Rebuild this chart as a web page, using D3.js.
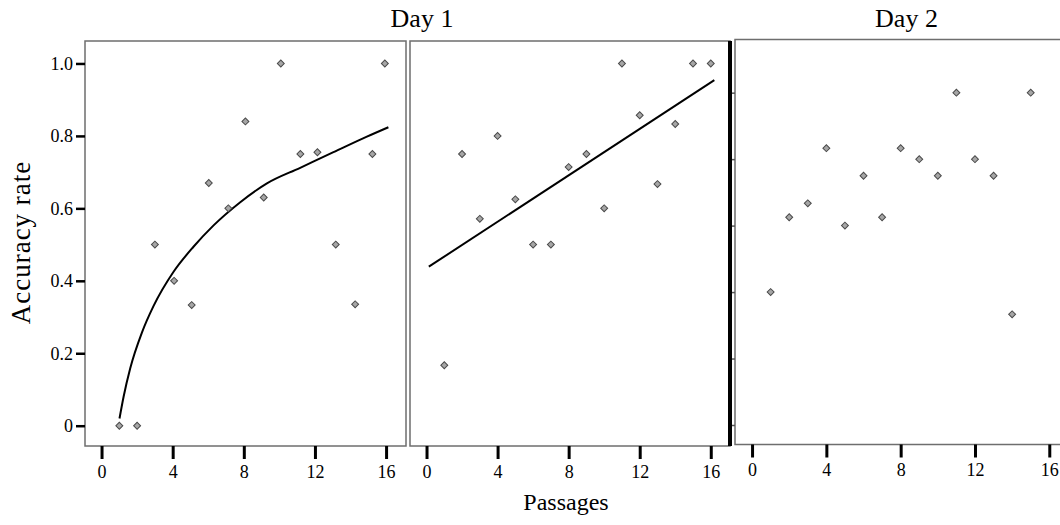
<!DOCTYPE html>
<html>
<head>
  <title>Accuracy rate by passages, Day 1 and Day 2</title>
  <script src="https://d3js.org/d3.v7.min.js"></script>
  <style>
    body { margin: 0; background: #fff; }
    text { font-family: "Liberation Serif", "Times New Roman", serif; fill: #000; }
  </style>
</head>
<body>

<div id="chart"></div>

<script>
// Day 1, left panel (points + fitted curve)
const passages1 = [1, 2, 3, 4.08, 5.07, 6.03, 7.13, 8.09, 9.12, 10.08, 11.18, 12.14, 13.17, 14.26, 15.23, 15.93];
const accuracy1 = [0, 0, 0.5, 0.4, 0.333, 0.67, 0.6, 0.84, 0.63, 1.0, 0.75, 0.755, 0.5, 0.335, 0.75, 1.0];
const curveX1 = [1.01, 1.24, 1.61, 2.27, 2.92, 4.05, 5.17, 6.3, 7.8, 9.3, 11.17, 13.04, 14.92, 16.13];
const curveY1 = [0.02, 0.08, 0.158, 0.257, 0.33, 0.425, 0.494, 0.553, 0.617, 0.669, 0.712, 0.755, 0.798, 0.824];

// Day 1, middle panel (points + straight fit)
const passages2 = [1, 2, 3, 4, 5, 6, 7, 8, 9, 10, 11, 12, 13, 14, 15, 16];
const accuracy2 = [0.167, 0.75, 0.571, 0.8, 0.625, 0.5, 0.5, 0.714, 0.75, 0.6, 1.0, 0.857, 0.667, 0.833, 1.0, 1.0];
const fitX2 = [0.13, 16.2];
const fitY2 = [0.439, 0.954];

// Day 2 panel
const passages3 = [1, 2, 3, 4, 5, 6, 7, 8, 9, 10, 11, 12, 13, 14, 15];
const accuracy3 = [0.4, 0.625, 0.667, 0.833, 0.6, 0.75, 0.625, 0.833, 0.8, 0.75, 1.0, 0.8, 0.75, 0.333, 1.0];

const xTicks = [0, 4, 8, 12, 16];
const yTicks = [0, 0.2, 0.4, 0.6, 0.8, 1.0];
const yTickLabels = ["0", "0.2", "0.4", "0.6", "0.8", "1.0"];
const titles = ["Day 1", "Day 2"];

const width = 1060, height = 525;

const svg = d3.select("#chart")
  .append("svg")
  .attr("width", width)
  .attr("height", height);

// panel boxes
const p1 = { left: 85, top: 41, right: 406, bottom: 446 };
const p2 = { left: 410, top: 41, right: 730, bottom: 446 };
const p3 = { left: 735, top: 39.5, right: 1066, bottom: 444.5 };

const x1 = d3.scaleLinear().domain([-0.93, 17.12]).range([p1.left, p1.right]);
const x2 = d3.scaleLinear().domain([-0.93, 16.97]).range([p2.left, 728]);
const x3 = d3.scaleLinear().domain([-0.918, 16.9]).range([p3.left, p3.right]);
const y12 = d3.scaleLinear().domain([-0.056, 1.062]).range([p1.bottom, p1.top]);
const y3 = d3.scaleLinear().domain([-0.0587, 1.16]).range([p3.bottom, p3.top]);

function box(p, color) {
  svg.append("rect")
    .attr("x", p.left)
    .attr("y", p.top)
    .attr("width", p.right - p.left)
    .attr("height", p.bottom - p.top)
    .attr("fill", "none")
    .attr("stroke", color)
    .attr("stroke-width", 1.5);
}
box(p1, "#6e6e6e");
box(p2, "#6e6e6e");
box(p3, "#6e6e6e");

// heavy divider on the right of the middle panel
svg.append("line")
  .attr("x1", p2.right).attr("x2", p2.right)
  .attr("y1", p2.top).attr("y2", p2.bottom)
  .attr("stroke", "#000")
  .attr("stroke-width", 4);

// x axes
function xAxis(scale, y) {
  const g = svg.append("g")
    .attr("transform", `translate(0,${y})`)
    .call(d3.axisBottom(scale).tickValues(xTicks).tickSize(13).tickPadding(6));
  g.select(".domain").remove();
  g.selectAll(".tick line").attr("stroke", "#000").attr("stroke-width", 3);
  g.selectAll(".tick text").attr("font-size", 18).attr("font-family", "Liberation Serif");
}
xAxis(x1, p1.bottom);
xAxis(x2, p2.bottom);
xAxis(x3, p3.bottom);

// y axis (left panel only has labels)
const ya = svg.append("g")
  .attr("transform", `translate(${p1.left},0)`)
  .call(d3.axisLeft(y12).tickValues(yTicks)
    .tickFormat((d, i) => yTickLabels[i]).tickSize(9).tickPadding(3));
ya.select(".domain").remove();
ya.selectAll(".tick line").attr("stroke", "#000").attr("stroke-width", 2.5);
ya.selectAll(".tick text").attr("font-size", 18).attr("font-family", "Liberation Serif");

// small unlabeled ticks on the Day 2 panel
const ya3 = svg.append("g")
  .attr("transform", `translate(${p3.left},0)`)
  .call(d3.axisLeft(y3).tickValues(yTicks).tickFormat("").tickSize(3));
ya3.select(".domain").remove();
ya3.selectAll(".tick line").attr("stroke", "#555").attr("stroke-width", 1.5);

// fit lines
const line1 = d3.line()
  .x((d, i) => x1(curveX1[i]))
  .y(d => y12(d))
  .curve(d3.curveMonotoneX);
svg.append("path")
  .datum(curveY1)
  .attr("d", line1)
  .attr("fill", "none")
  .attr("stroke", "#000")
  .attr("stroke-width", 2);

const line2 = d3.line()
  .x((d, i) => x2(fitX2[i]))
  .y(d => y12(d));
svg.append("path")
  .datum(fitY2)
  .attr("d", line2)
  .attr("fill", "none")
  .attr("stroke", "#000")
  .attr("stroke-width", 2);

// diamond markers
const diamond = d3.symbol().type(d3.symbolSquare).size(24);
function points(xs, ys, xScale, yScale) {
  svg.append("g")
    .selectAll("path")
    .data(ys)
    .enter()
    .append("path")
    .attr("d", diamond)
    .attr("transform", (d, i) => `translate(${xScale(xs[i])},${yScale(d)}) rotate(45)`)
    .attr("fill", "#a6a6a6")
    .attr("stroke", "#4a4a4a")
    .attr("stroke-width", 1);
}
points(passages1, accuracy1, x1, y12);
points(passages2, accuracy2, x2, y12);
points(passages3, accuracy3, x3, y3);

// titles and axis labels
svg.append("text")
  .attr("x", 422).attr("y", 27)
  .attr("text-anchor", "middle")
  .attr("font-size", 26)
  .text(titles[0]);

svg.append("text")
  .attr("x", 906.5).attr("y", 27)
  .attr("text-anchor", "middle")
  .attr("font-size", 26)
  .text(titles[1]);

svg.append("text")
  .attr("x", 566).attr("y", 510)
  .attr("text-anchor", "middle")
  .attr("font-size", 24)
  .text("Passages");

svg.append("text")
  .attr("transform", "translate(30,242.5) rotate(-90)")
  .attr("text-anchor", "middle")
  .attr("font-size", 27)
  .attr("letter-spacing", 1)
  .text("Accuracy rate");
</script>

</body>
</html>
